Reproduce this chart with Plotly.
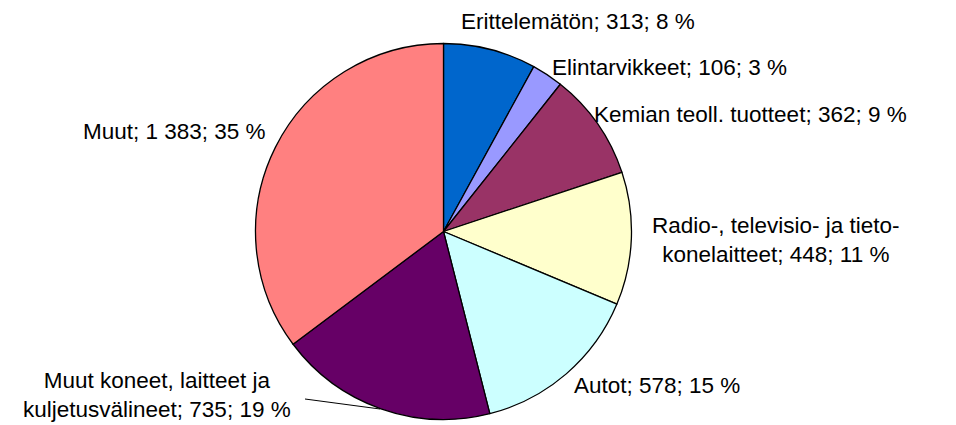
import plotly.graph_objects as go

labels = ["Erittelemätön", "Elintarvikkeet", "Kemian teoll. tuotteet",
          "Radio-, televisio- ja tieto-konelaitteet", "Autot",
          "Muut koneet, laitteet ja kuljetusvälineet", "Muut"]
values = [313, 106, 362, 448, 578, 735, 1383]
colors = ["#0066CC", "#9999FF", "#993366", "#FFFFCC", "#CCFFFF", "#660066", "#FF8080"]

# label text rows as in the original (line breaks where the chart wraps them)
label_lines = [
    ["Erittelemätön"],
    ["Elintarvikkeet"],
    ["Kemian teoll. tuotteet"],
    ["Radio-, televisio- ja tieto-", "konelaitteet"],
    ["Autot"],
    ["Muut koneet, laitteet ja", "kuljetusvälineet"],
    ["Muut"],
]

W, H = 956, 425
total = sum(values)


def fmt(v):
    return f"{v:,}".replace(",", " ")


def label_text(i):
    pct = round(values[i] / total * 100)
    lines = list(label_lines[i])
    lines[-1] = f"{lines[-1]}; {fmt(values[i])}; {pct} %"
    return "<br>".join(lines)


# pixel positions of each label (x, y, anchor)
label_pos = [
    (459, 21, "left"),
    (550, 67, "left"),
    (592, 115, "left"),
    (776, 240, "center"),
    (572, 385, "left"),
    (157, 395, "center"),
    (268, 131, "right"),
]

fig = go.Figure()
fig.add_trace(go.Pie(
    labels=labels, values=values, sort=False, direction="clockwise", rotation=0,
    marker=dict(colors=colors, line=dict(color="black", width=1.3)),
    textinfo="none", hoverinfo="label+value+percent", showlegend=False,
    domain=dict(x=[255.5 / W, 631.5 / W], y=[(H - 419.5) / H, (H - 43.5) / H]),
))

for i, (px, py, anchor) in enumerate(label_pos):
    fig.add_annotation(
        x=px / W, y=1 - py / H, xref="paper", yref="paper",
        text=label_text(i), showarrow=False, xanchor=anchor, yanchor="middle",
        align="center", font=dict(size=22.5, color="black"),
    )

# leader line for the lower-left label
fig.add_shape(type="line", xref="paper", yref="paper",
              x0=305 / W, y0=1 - 399 / H, x1=380 / W, y1=1 - 409 / H,
              line=dict(color="black", width=1))

fig.update_layout(
    width=W, height=H, margin=dict(l=0, r=0, t=0, b=0),
    paper_bgcolor="white", plot_bgcolor="white",
    font=dict(family="Liberation Sans, Arial, sans-serif", color="black"),
)
fig.write_html("out.html", config={"displayModeBar": False},
               post_script="document.body.style.margin='0';")
